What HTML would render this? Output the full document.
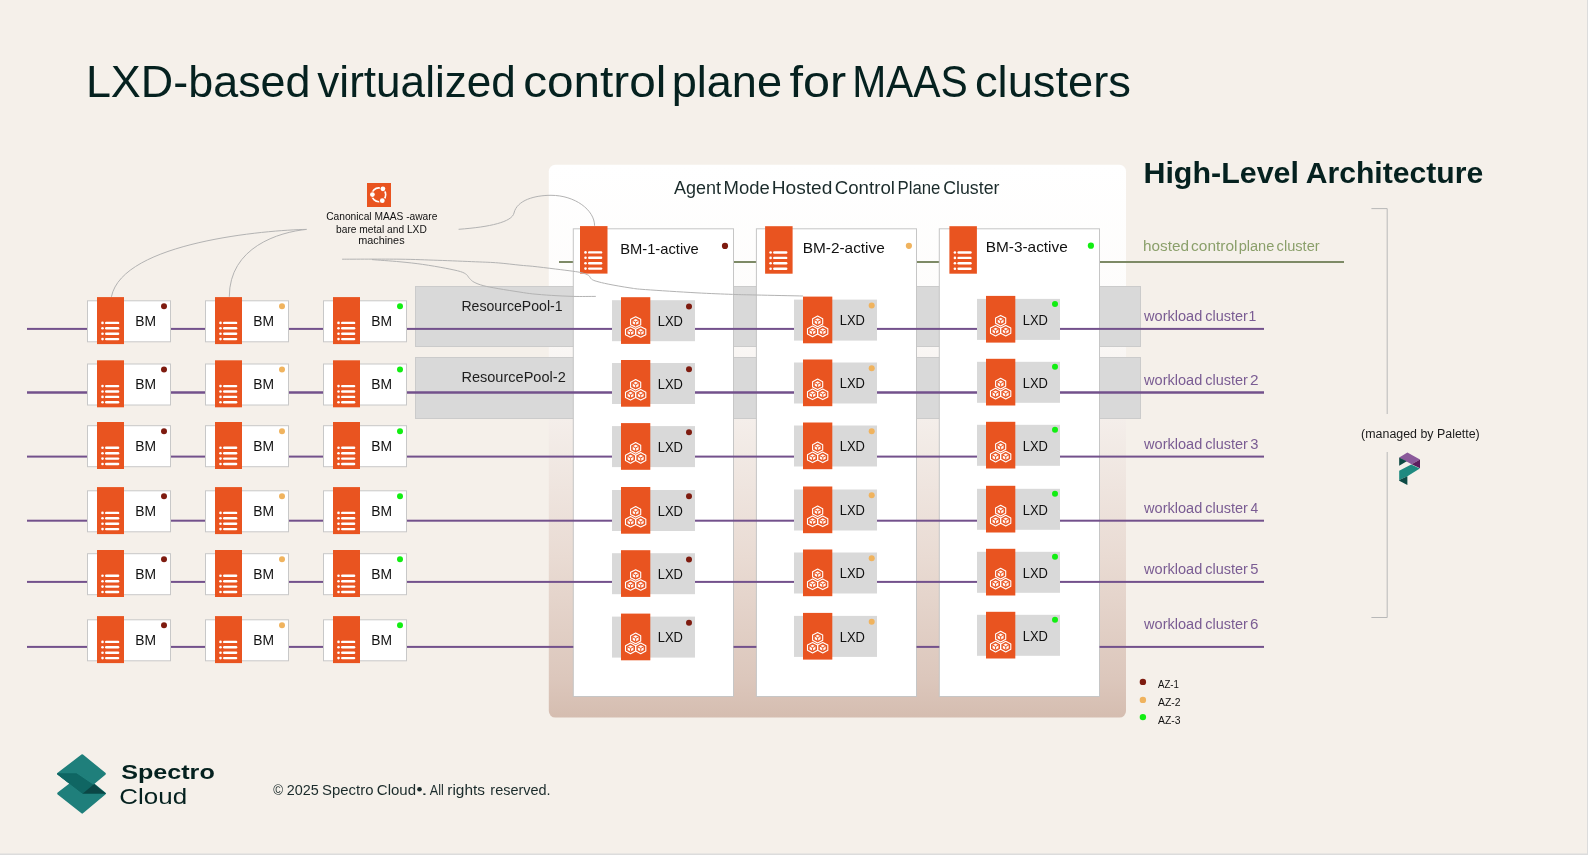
<!DOCTYPE html><html><head><meta charset="utf-8"><style>html,body{margin:0;padding:0;background:#F5F0EA;}svg{display:block;will-change:transform;font-family:"Liberation Sans",sans-serif;}</style></head><body>
<svg width="1588" height="855" viewBox="0 0 1588 855">
<defs><linearGradient id="pg" x1="0" y1="0" x2="0" y2="1"><stop offset="0" stop-color="#FFFFFF"/><stop offset="0.25" stop-color="#FDFCFB"/><stop offset="0.46" stop-color="#F4EEEA"/><stop offset="0.71" stop-color="#E9DBD3"/><stop offset="0.93" stop-color="#DCC7BC"/><stop offset="1" stop-color="#D5BDB0"/></linearGradient></defs>
<rect width="1588" height="855" fill="#F5F0EA"/>
<text x="85.9" y="96.6" font-size="44.5" fill="#05211F" textLength="224.64" lengthAdjust="spacingAndGlyphs">LXD-based</text>
<text x="317.29" y="96.6" font-size="44.5" fill="#05211F" textLength="198.56" lengthAdjust="spacingAndGlyphs">virtualized</text>
<text x="523.17" y="96.6" font-size="44.5" fill="#05211F" textLength="143.2" lengthAdjust="spacingAndGlyphs">control</text>
<text x="671.67" y="96.6" font-size="44.5" fill="#05211F" textLength="110.33" lengthAdjust="spacingAndGlyphs">plane</text>
<text x="789.57" y="96.6" font-size="44.5" fill="#05211F" textLength="56.63" lengthAdjust="spacingAndGlyphs">for</text>
<text x="852.13" y="96.6" font-size="44.5" fill="#05211F" textLength="115.66" lengthAdjust="spacingAndGlyphs">MAAS</text>
<text x="974.98" y="96.6" font-size="44.5" fill="#05211F" textLength="156.03" lengthAdjust="spacingAndGlyphs">clusters</text>
<rect x="548.8" y="164.8" width="577.2" height="552.8" rx="6.5" fill="url(#pg)"/>
<text x="674.06" y="194.2" font-size="17.6" fill="#1B2B2B" textLength="47.0" lengthAdjust="spacingAndGlyphs">Agent</text>
<text x="723.58" y="194.2" font-size="17.6" fill="#1B2B2B" textLength="46.24" lengthAdjust="spacingAndGlyphs">Mode</text>
<text x="771.72" y="194.2" font-size="17.6" fill="#1B2B2B" textLength="60.59" lengthAdjust="spacingAndGlyphs">Hosted</text>
<text x="834.77" y="194.2" font-size="17.6" fill="#1B2B2B" textLength="60.17" lengthAdjust="spacingAndGlyphs">Control</text>
<text x="897.52" y="194.2" font-size="17.6" fill="#1B2B2B" textLength="42.9" lengthAdjust="spacingAndGlyphs">Plane</text>
<text x="943.21" y="194.2" font-size="17.6" fill="#1B2B2B" textLength="56.26" lengthAdjust="spacingAndGlyphs">Cluster</text>
<text x="1143.45" y="183.2" font-size="30.2" fill="#05211F" textLength="155.57" lengthAdjust="spacingAndGlyphs" font-weight="bold">High-Level</text>
<text x="1305.65" y="183.2" font-size="30.2" fill="#05211F" textLength="177.66" lengthAdjust="spacingAndGlyphs" font-weight="bold">Architecture</text>
<rect x="559" y="261" width="785" height="2" fill="#7D8A66"/>
<text x="1143.03" y="251" font-size="14" fill="#8A9F6A" textLength="45.93" lengthAdjust="spacingAndGlyphs">hosted</text>
<text x="1191.14" y="251" font-size="14" fill="#8A9F6A" textLength="46.39" lengthAdjust="spacingAndGlyphs">control</text>
<text x="1238.65" y="251" font-size="14" fill="#8A9F6A" textLength="35.7" lengthAdjust="spacingAndGlyphs">plane</text>
<text x="1276.58" y="251" font-size="14" fill="#8A9F6A" textLength="43.05" lengthAdjust="spacingAndGlyphs">cluster</text>
<rect x="415.5" y="286.5" width="725" height="60" fill="#D9D9D9" stroke="#CBCBCB" stroke-width="1"/>
<rect x="415.5" y="357.5" width="725" height="61" fill="#D9D9D9" stroke="#CBCBCB" stroke-width="1"/>
<rect x="573.3" y="228.8" width="160.20000000000005" height="467.7" fill="#fff" stroke="#C6C6C6" stroke-width="1"/>
<rect x="756.4" y="228.8" width="160.10000000000002" height="467.7" fill="#fff" stroke="#C6C6C6" stroke-width="1"/>
<rect x="939.3" y="228.8" width="160.20000000000005" height="467.7" fill="#fff" stroke="#C6C6C6" stroke-width="1"/>
<text x="461.44" y="311.1" font-size="14.7" fill="#1E1E1E" textLength="101.14" lengthAdjust="spacingAndGlyphs">ResourcePool-1</text>
<text x="461.4" y="381.7" font-size="14.7" fill="#1E1E1E" textLength="104.34" lengthAdjust="spacingAndGlyphs">ResourcePool-2</text>
<rect x="27" y="327.9" width="1237" height="2" fill="#73518C"/>
<rect x="27" y="391.25" width="1237" height="2.5" fill="#73518C"/>
<rect x="27" y="455.6" width="1237" height="2" fill="#73518C"/>
<rect x="27" y="519.7" width="1237" height="2" fill="#73518C"/>
<rect x="27" y="580.9" width="1237" height="2" fill="#73518C"/>
<rect x="27" y="645.9" width="546.3" height="2" fill="#73518C"/>
<rect x="733.5" y="645.9" width="22.899999999999977" height="2" fill="#73518C"/>
<rect x="916.5" y="645.9" width="22.799999999999955" height="2" fill="#73518C"/>
<rect x="1099.5" y="645.9" width="164.5" height="2" fill="#73518C"/>
<text x="1144.04" y="321.2" font-size="14" fill="#7A5C93" textLength="58.3" lengthAdjust="spacingAndGlyphs">workload</text>
<text x="1205.28" y="321.2" font-size="14" fill="#7A5C93" textLength="42.64" lengthAdjust="spacingAndGlyphs">cluster</text>
<text x="1248.52" y="321.2" font-size="14" fill="#7A5C93">1</text>
<text x="1144.04" y="385.2" font-size="14" fill="#7A5C93" textLength="58.3" lengthAdjust="spacingAndGlyphs">workload</text>
<text x="1205.28" y="385.2" font-size="14" fill="#7A5C93" textLength="42.64" lengthAdjust="spacingAndGlyphs">cluster</text>
<text x="1250.13" y="385.2" font-size="14" fill="#7A5C93" textLength="8.56" lengthAdjust="spacingAndGlyphs">2</text>
<text x="1144.04" y="448.9" font-size="14" fill="#7A5C93" textLength="58.3" lengthAdjust="spacingAndGlyphs">workload</text>
<text x="1205.28" y="448.9" font-size="14" fill="#7A5C93" textLength="42.64" lengthAdjust="spacingAndGlyphs">cluster</text>
<text x="1250.35" y="448.9" font-size="14" fill="#7A5C93" textLength="8.2" lengthAdjust="spacingAndGlyphs">3</text>
<text x="1144.04" y="513" font-size="14" fill="#7A5C93" textLength="58.3" lengthAdjust="spacingAndGlyphs">workload</text>
<text x="1205.28" y="513" font-size="14" fill="#7A5C93" textLength="42.64" lengthAdjust="spacingAndGlyphs">cluster</text>
<text x="1250.59" y="513" font-size="14" fill="#7A5C93" textLength="7.71" lengthAdjust="spacingAndGlyphs">4</text>
<text x="1144.04" y="574" font-size="14" fill="#7A5C93" textLength="58.3" lengthAdjust="spacingAndGlyphs">workload</text>
<text x="1205.28" y="574" font-size="14" fill="#7A5C93" textLength="42.64" lengthAdjust="spacingAndGlyphs">cluster</text>
<text x="1250.31" y="574" font-size="14" fill="#7A5C93" textLength="8.2" lengthAdjust="spacingAndGlyphs">5</text>
<text x="1144.04" y="628.5" font-size="14" fill="#7A5C93" textLength="58.3" lengthAdjust="spacingAndGlyphs">workload</text>
<text x="1205.28" y="628.5" font-size="14" fill="#7A5C93" textLength="42.64" lengthAdjust="spacingAndGlyphs">cluster</text>
<text x="1250.14" y="628.5" font-size="14" fill="#7A5C93" textLength="8.42" lengthAdjust="spacingAndGlyphs">6</text>
<rect x="87.5" y="300.8" width="83" height="41" fill="#fff" stroke="#C8C8C8" stroke-width="1"/>
<rect x="97" y="297.1" width="27" height="47" fill="#E95420"/>
<circle cx="102.50" cy="322.90" r="1.3" fill="#fff"/>
<line x1="106.20" y1="322.90" x2="118.10" y2="322.90" stroke="#fff" stroke-width="2.4" stroke-linecap="round"/>
<circle cx="102.50" cy="328.30" r="1.3" fill="#fff"/>
<line x1="106.20" y1="328.30" x2="118.10" y2="328.30" stroke="#fff" stroke-width="2.4" stroke-linecap="round"/>
<circle cx="102.50" cy="333.70" r="1.3" fill="#fff"/>
<line x1="106.20" y1="333.70" x2="118.10" y2="333.70" stroke="#fff" stroke-width="2.4" stroke-linecap="round"/>
<circle cx="102.50" cy="339.10" r="1.3" fill="#fff"/>
<line x1="106.20" y1="339.10" x2="118.10" y2="339.10" stroke="#fff" stroke-width="2.4" stroke-linecap="round"/>
<text x="135.36" y="325.8" font-size="13.8" fill="#111" textLength="20.79" lengthAdjust="spacingAndGlyphs">BM</text>
<circle cx="164" cy="306.3" r="3" fill="#7E1B0F"/>
<rect x="205.5" y="300.8" width="83" height="41" fill="#fff" stroke="#C8C8C8" stroke-width="1"/>
<rect x="215" y="297.1" width="27" height="47" fill="#E95420"/>
<circle cx="220.50" cy="322.90" r="1.3" fill="#fff"/>
<line x1="224.20" y1="322.90" x2="236.10" y2="322.90" stroke="#fff" stroke-width="2.4" stroke-linecap="round"/>
<circle cx="220.50" cy="328.30" r="1.3" fill="#fff"/>
<line x1="224.20" y1="328.30" x2="236.10" y2="328.30" stroke="#fff" stroke-width="2.4" stroke-linecap="round"/>
<circle cx="220.50" cy="333.70" r="1.3" fill="#fff"/>
<line x1="224.20" y1="333.70" x2="236.10" y2="333.70" stroke="#fff" stroke-width="2.4" stroke-linecap="round"/>
<circle cx="220.50" cy="339.10" r="1.3" fill="#fff"/>
<line x1="224.20" y1="339.10" x2="236.10" y2="339.10" stroke="#fff" stroke-width="2.4" stroke-linecap="round"/>
<text x="253.36" y="325.8" font-size="13.8" fill="#111" textLength="20.79" lengthAdjust="spacingAndGlyphs">BM</text>
<circle cx="282" cy="306.3" r="3" fill="#F0B35E"/>
<rect x="323.5" y="300.8" width="83" height="41" fill="#fff" stroke="#C8C8C8" stroke-width="1"/>
<rect x="333" y="297.1" width="27" height="47" fill="#E95420"/>
<circle cx="338.50" cy="322.90" r="1.3" fill="#fff"/>
<line x1="342.20" y1="322.90" x2="354.10" y2="322.90" stroke="#fff" stroke-width="2.4" stroke-linecap="round"/>
<circle cx="338.50" cy="328.30" r="1.3" fill="#fff"/>
<line x1="342.20" y1="328.30" x2="354.10" y2="328.30" stroke="#fff" stroke-width="2.4" stroke-linecap="round"/>
<circle cx="338.50" cy="333.70" r="1.3" fill="#fff"/>
<line x1="342.20" y1="333.70" x2="354.10" y2="333.70" stroke="#fff" stroke-width="2.4" stroke-linecap="round"/>
<circle cx="338.50" cy="339.10" r="1.3" fill="#fff"/>
<line x1="342.20" y1="339.10" x2="354.10" y2="339.10" stroke="#fff" stroke-width="2.4" stroke-linecap="round"/>
<text x="371.36" y="325.8" font-size="13.8" fill="#111" textLength="20.79" lengthAdjust="spacingAndGlyphs">BM</text>
<circle cx="400" cy="306.3" r="3" fill="#12EE12"/>
<rect x="87.5" y="364.0" width="83" height="41" fill="#fff" stroke="#C8C8C8" stroke-width="1"/>
<rect x="97" y="360.3" width="27" height="47" fill="#E95420"/>
<circle cx="102.50" cy="386.10" r="1.3" fill="#fff"/>
<line x1="106.20" y1="386.10" x2="118.10" y2="386.10" stroke="#fff" stroke-width="2.4" stroke-linecap="round"/>
<circle cx="102.50" cy="391.50" r="1.3" fill="#fff"/>
<line x1="106.20" y1="391.50" x2="118.10" y2="391.50" stroke="#fff" stroke-width="2.4" stroke-linecap="round"/>
<circle cx="102.50" cy="396.90" r="1.3" fill="#fff"/>
<line x1="106.20" y1="396.90" x2="118.10" y2="396.90" stroke="#fff" stroke-width="2.4" stroke-linecap="round"/>
<circle cx="102.50" cy="402.30" r="1.3" fill="#fff"/>
<line x1="106.20" y1="402.30" x2="118.10" y2="402.30" stroke="#fff" stroke-width="2.4" stroke-linecap="round"/>
<text x="135.36" y="389.0" font-size="13.8" fill="#111" textLength="20.79" lengthAdjust="spacingAndGlyphs">BM</text>
<circle cx="164" cy="369.5" r="3" fill="#7E1B0F"/>
<rect x="205.5" y="364.0" width="83" height="41" fill="#fff" stroke="#C8C8C8" stroke-width="1"/>
<rect x="215" y="360.3" width="27" height="47" fill="#E95420"/>
<circle cx="220.50" cy="386.10" r="1.3" fill="#fff"/>
<line x1="224.20" y1="386.10" x2="236.10" y2="386.10" stroke="#fff" stroke-width="2.4" stroke-linecap="round"/>
<circle cx="220.50" cy="391.50" r="1.3" fill="#fff"/>
<line x1="224.20" y1="391.50" x2="236.10" y2="391.50" stroke="#fff" stroke-width="2.4" stroke-linecap="round"/>
<circle cx="220.50" cy="396.90" r="1.3" fill="#fff"/>
<line x1="224.20" y1="396.90" x2="236.10" y2="396.90" stroke="#fff" stroke-width="2.4" stroke-linecap="round"/>
<circle cx="220.50" cy="402.30" r="1.3" fill="#fff"/>
<line x1="224.20" y1="402.30" x2="236.10" y2="402.30" stroke="#fff" stroke-width="2.4" stroke-linecap="round"/>
<text x="253.36" y="389.0" font-size="13.8" fill="#111" textLength="20.79" lengthAdjust="spacingAndGlyphs">BM</text>
<circle cx="282" cy="369.5" r="3" fill="#F0B35E"/>
<rect x="323.5" y="364.0" width="83" height="41" fill="#fff" stroke="#C8C8C8" stroke-width="1"/>
<rect x="333" y="360.3" width="27" height="47" fill="#E95420"/>
<circle cx="338.50" cy="386.10" r="1.3" fill="#fff"/>
<line x1="342.20" y1="386.10" x2="354.10" y2="386.10" stroke="#fff" stroke-width="2.4" stroke-linecap="round"/>
<circle cx="338.50" cy="391.50" r="1.3" fill="#fff"/>
<line x1="342.20" y1="391.50" x2="354.10" y2="391.50" stroke="#fff" stroke-width="2.4" stroke-linecap="round"/>
<circle cx="338.50" cy="396.90" r="1.3" fill="#fff"/>
<line x1="342.20" y1="396.90" x2="354.10" y2="396.90" stroke="#fff" stroke-width="2.4" stroke-linecap="round"/>
<circle cx="338.50" cy="402.30" r="1.3" fill="#fff"/>
<line x1="342.20" y1="402.30" x2="354.10" y2="402.30" stroke="#fff" stroke-width="2.4" stroke-linecap="round"/>
<text x="371.36" y="389.0" font-size="13.8" fill="#111" textLength="20.79" lengthAdjust="spacingAndGlyphs">BM</text>
<circle cx="400" cy="369.5" r="3" fill="#12EE12"/>
<rect x="87.5" y="425.7" width="83" height="41" fill="#fff" stroke="#C8C8C8" stroke-width="1"/>
<rect x="97" y="422.0" width="27" height="47" fill="#E95420"/>
<circle cx="102.50" cy="447.80" r="1.3" fill="#fff"/>
<line x1="106.20" y1="447.80" x2="118.10" y2="447.80" stroke="#fff" stroke-width="2.4" stroke-linecap="round"/>
<circle cx="102.50" cy="453.20" r="1.3" fill="#fff"/>
<line x1="106.20" y1="453.20" x2="118.10" y2="453.20" stroke="#fff" stroke-width="2.4" stroke-linecap="round"/>
<circle cx="102.50" cy="458.60" r="1.3" fill="#fff"/>
<line x1="106.20" y1="458.60" x2="118.10" y2="458.60" stroke="#fff" stroke-width="2.4" stroke-linecap="round"/>
<circle cx="102.50" cy="464.00" r="1.3" fill="#fff"/>
<line x1="106.20" y1="464.00" x2="118.10" y2="464.00" stroke="#fff" stroke-width="2.4" stroke-linecap="round"/>
<text x="135.36" y="450.7" font-size="13.8" fill="#111" textLength="20.79" lengthAdjust="spacingAndGlyphs">BM</text>
<circle cx="164" cy="431.2" r="3" fill="#7E1B0F"/>
<rect x="205.5" y="425.7" width="83" height="41" fill="#fff" stroke="#C8C8C8" stroke-width="1"/>
<rect x="215" y="422.0" width="27" height="47" fill="#E95420"/>
<circle cx="220.50" cy="447.80" r="1.3" fill="#fff"/>
<line x1="224.20" y1="447.80" x2="236.10" y2="447.80" stroke="#fff" stroke-width="2.4" stroke-linecap="round"/>
<circle cx="220.50" cy="453.20" r="1.3" fill="#fff"/>
<line x1="224.20" y1="453.20" x2="236.10" y2="453.20" stroke="#fff" stroke-width="2.4" stroke-linecap="round"/>
<circle cx="220.50" cy="458.60" r="1.3" fill="#fff"/>
<line x1="224.20" y1="458.60" x2="236.10" y2="458.60" stroke="#fff" stroke-width="2.4" stroke-linecap="round"/>
<circle cx="220.50" cy="464.00" r="1.3" fill="#fff"/>
<line x1="224.20" y1="464.00" x2="236.10" y2="464.00" stroke="#fff" stroke-width="2.4" stroke-linecap="round"/>
<text x="253.36" y="450.7" font-size="13.8" fill="#111" textLength="20.79" lengthAdjust="spacingAndGlyphs">BM</text>
<circle cx="282" cy="431.2" r="3" fill="#F0B35E"/>
<rect x="323.5" y="425.7" width="83" height="41" fill="#fff" stroke="#C8C8C8" stroke-width="1"/>
<rect x="333" y="422.0" width="27" height="47" fill="#E95420"/>
<circle cx="338.50" cy="447.80" r="1.3" fill="#fff"/>
<line x1="342.20" y1="447.80" x2="354.10" y2="447.80" stroke="#fff" stroke-width="2.4" stroke-linecap="round"/>
<circle cx="338.50" cy="453.20" r="1.3" fill="#fff"/>
<line x1="342.20" y1="453.20" x2="354.10" y2="453.20" stroke="#fff" stroke-width="2.4" stroke-linecap="round"/>
<circle cx="338.50" cy="458.60" r="1.3" fill="#fff"/>
<line x1="342.20" y1="458.60" x2="354.10" y2="458.60" stroke="#fff" stroke-width="2.4" stroke-linecap="round"/>
<circle cx="338.50" cy="464.00" r="1.3" fill="#fff"/>
<line x1="342.20" y1="464.00" x2="354.10" y2="464.00" stroke="#fff" stroke-width="2.4" stroke-linecap="round"/>
<text x="371.36" y="450.7" font-size="13.8" fill="#111" textLength="20.79" lengthAdjust="spacingAndGlyphs">BM</text>
<circle cx="400" cy="431.2" r="3" fill="#12EE12"/>
<rect x="87.5" y="490.8" width="83" height="41" fill="#fff" stroke="#C8C8C8" stroke-width="1"/>
<rect x="97" y="487.1" width="27" height="47" fill="#E95420"/>
<circle cx="102.50" cy="512.90" r="1.3" fill="#fff"/>
<line x1="106.20" y1="512.90" x2="118.10" y2="512.90" stroke="#fff" stroke-width="2.4" stroke-linecap="round"/>
<circle cx="102.50" cy="518.30" r="1.3" fill="#fff"/>
<line x1="106.20" y1="518.30" x2="118.10" y2="518.30" stroke="#fff" stroke-width="2.4" stroke-linecap="round"/>
<circle cx="102.50" cy="523.70" r="1.3" fill="#fff"/>
<line x1="106.20" y1="523.70" x2="118.10" y2="523.70" stroke="#fff" stroke-width="2.4" stroke-linecap="round"/>
<circle cx="102.50" cy="529.10" r="1.3" fill="#fff"/>
<line x1="106.20" y1="529.10" x2="118.10" y2="529.10" stroke="#fff" stroke-width="2.4" stroke-linecap="round"/>
<text x="135.36" y="515.8" font-size="13.8" fill="#111" textLength="20.79" lengthAdjust="spacingAndGlyphs">BM</text>
<circle cx="164" cy="496.3" r="3" fill="#7E1B0F"/>
<rect x="205.5" y="490.8" width="83" height="41" fill="#fff" stroke="#C8C8C8" stroke-width="1"/>
<rect x="215" y="487.1" width="27" height="47" fill="#E95420"/>
<circle cx="220.50" cy="512.90" r="1.3" fill="#fff"/>
<line x1="224.20" y1="512.90" x2="236.10" y2="512.90" stroke="#fff" stroke-width="2.4" stroke-linecap="round"/>
<circle cx="220.50" cy="518.30" r="1.3" fill="#fff"/>
<line x1="224.20" y1="518.30" x2="236.10" y2="518.30" stroke="#fff" stroke-width="2.4" stroke-linecap="round"/>
<circle cx="220.50" cy="523.70" r="1.3" fill="#fff"/>
<line x1="224.20" y1="523.70" x2="236.10" y2="523.70" stroke="#fff" stroke-width="2.4" stroke-linecap="round"/>
<circle cx="220.50" cy="529.10" r="1.3" fill="#fff"/>
<line x1="224.20" y1="529.10" x2="236.10" y2="529.10" stroke="#fff" stroke-width="2.4" stroke-linecap="round"/>
<text x="253.36" y="515.8" font-size="13.8" fill="#111" textLength="20.79" lengthAdjust="spacingAndGlyphs">BM</text>
<circle cx="282" cy="496.3" r="3" fill="#F0B35E"/>
<rect x="323.5" y="490.8" width="83" height="41" fill="#fff" stroke="#C8C8C8" stroke-width="1"/>
<rect x="333" y="487.1" width="27" height="47" fill="#E95420"/>
<circle cx="338.50" cy="512.90" r="1.3" fill="#fff"/>
<line x1="342.20" y1="512.90" x2="354.10" y2="512.90" stroke="#fff" stroke-width="2.4" stroke-linecap="round"/>
<circle cx="338.50" cy="518.30" r="1.3" fill="#fff"/>
<line x1="342.20" y1="518.30" x2="354.10" y2="518.30" stroke="#fff" stroke-width="2.4" stroke-linecap="round"/>
<circle cx="338.50" cy="523.70" r="1.3" fill="#fff"/>
<line x1="342.20" y1="523.70" x2="354.10" y2="523.70" stroke="#fff" stroke-width="2.4" stroke-linecap="round"/>
<circle cx="338.50" cy="529.10" r="1.3" fill="#fff"/>
<line x1="342.20" y1="529.10" x2="354.10" y2="529.10" stroke="#fff" stroke-width="2.4" stroke-linecap="round"/>
<text x="371.36" y="515.8" font-size="13.8" fill="#111" textLength="20.79" lengthAdjust="spacingAndGlyphs">BM</text>
<circle cx="400" cy="496.3" r="3" fill="#12EE12"/>
<rect x="87.5" y="553.7" width="83" height="41" fill="#fff" stroke="#C8C8C8" stroke-width="1"/>
<rect x="97" y="550.0" width="27" height="47" fill="#E95420"/>
<circle cx="102.50" cy="575.80" r="1.3" fill="#fff"/>
<line x1="106.20" y1="575.80" x2="118.10" y2="575.80" stroke="#fff" stroke-width="2.4" stroke-linecap="round"/>
<circle cx="102.50" cy="581.20" r="1.3" fill="#fff"/>
<line x1="106.20" y1="581.20" x2="118.10" y2="581.20" stroke="#fff" stroke-width="2.4" stroke-linecap="round"/>
<circle cx="102.50" cy="586.60" r="1.3" fill="#fff"/>
<line x1="106.20" y1="586.60" x2="118.10" y2="586.60" stroke="#fff" stroke-width="2.4" stroke-linecap="round"/>
<circle cx="102.50" cy="592.00" r="1.3" fill="#fff"/>
<line x1="106.20" y1="592.00" x2="118.10" y2="592.00" stroke="#fff" stroke-width="2.4" stroke-linecap="round"/>
<text x="135.36" y="578.7" font-size="13.8" fill="#111" textLength="20.79" lengthAdjust="spacingAndGlyphs">BM</text>
<circle cx="164" cy="559.2" r="3" fill="#7E1B0F"/>
<rect x="205.5" y="553.7" width="83" height="41" fill="#fff" stroke="#C8C8C8" stroke-width="1"/>
<rect x="215" y="550.0" width="27" height="47" fill="#E95420"/>
<circle cx="220.50" cy="575.80" r="1.3" fill="#fff"/>
<line x1="224.20" y1="575.80" x2="236.10" y2="575.80" stroke="#fff" stroke-width="2.4" stroke-linecap="round"/>
<circle cx="220.50" cy="581.20" r="1.3" fill="#fff"/>
<line x1="224.20" y1="581.20" x2="236.10" y2="581.20" stroke="#fff" stroke-width="2.4" stroke-linecap="round"/>
<circle cx="220.50" cy="586.60" r="1.3" fill="#fff"/>
<line x1="224.20" y1="586.60" x2="236.10" y2="586.60" stroke="#fff" stroke-width="2.4" stroke-linecap="round"/>
<circle cx="220.50" cy="592.00" r="1.3" fill="#fff"/>
<line x1="224.20" y1="592.00" x2="236.10" y2="592.00" stroke="#fff" stroke-width="2.4" stroke-linecap="round"/>
<text x="253.36" y="578.7" font-size="13.8" fill="#111" textLength="20.79" lengthAdjust="spacingAndGlyphs">BM</text>
<circle cx="282" cy="559.2" r="3" fill="#F0B35E"/>
<rect x="323.5" y="553.7" width="83" height="41" fill="#fff" stroke="#C8C8C8" stroke-width="1"/>
<rect x="333" y="550.0" width="27" height="47" fill="#E95420"/>
<circle cx="338.50" cy="575.80" r="1.3" fill="#fff"/>
<line x1="342.20" y1="575.80" x2="354.10" y2="575.80" stroke="#fff" stroke-width="2.4" stroke-linecap="round"/>
<circle cx="338.50" cy="581.20" r="1.3" fill="#fff"/>
<line x1="342.20" y1="581.20" x2="354.10" y2="581.20" stroke="#fff" stroke-width="2.4" stroke-linecap="round"/>
<circle cx="338.50" cy="586.60" r="1.3" fill="#fff"/>
<line x1="342.20" y1="586.60" x2="354.10" y2="586.60" stroke="#fff" stroke-width="2.4" stroke-linecap="round"/>
<circle cx="338.50" cy="592.00" r="1.3" fill="#fff"/>
<line x1="342.20" y1="592.00" x2="354.10" y2="592.00" stroke="#fff" stroke-width="2.4" stroke-linecap="round"/>
<text x="371.36" y="578.7" font-size="13.8" fill="#111" textLength="20.79" lengthAdjust="spacingAndGlyphs">BM</text>
<circle cx="400" cy="559.2" r="3" fill="#12EE12"/>
<rect x="87.5" y="619.8" width="83" height="41" fill="#fff" stroke="#C8C8C8" stroke-width="1"/>
<rect x="97" y="616.0999999999999" width="27" height="47" fill="#E95420"/>
<circle cx="102.50" cy="641.90" r="1.3" fill="#fff"/>
<line x1="106.20" y1="641.90" x2="118.10" y2="641.90" stroke="#fff" stroke-width="2.4" stroke-linecap="round"/>
<circle cx="102.50" cy="647.30" r="1.3" fill="#fff"/>
<line x1="106.20" y1="647.30" x2="118.10" y2="647.30" stroke="#fff" stroke-width="2.4" stroke-linecap="round"/>
<circle cx="102.50" cy="652.70" r="1.3" fill="#fff"/>
<line x1="106.20" y1="652.70" x2="118.10" y2="652.70" stroke="#fff" stroke-width="2.4" stroke-linecap="round"/>
<circle cx="102.50" cy="658.10" r="1.3" fill="#fff"/>
<line x1="106.20" y1="658.10" x2="118.10" y2="658.10" stroke="#fff" stroke-width="2.4" stroke-linecap="round"/>
<text x="135.36" y="644.8" font-size="13.8" fill="#111" textLength="20.79" lengthAdjust="spacingAndGlyphs">BM</text>
<circle cx="164" cy="625.3" r="3" fill="#7E1B0F"/>
<rect x="205.5" y="619.8" width="83" height="41" fill="#fff" stroke="#C8C8C8" stroke-width="1"/>
<rect x="215" y="616.0999999999999" width="27" height="47" fill="#E95420"/>
<circle cx="220.50" cy="641.90" r="1.3" fill="#fff"/>
<line x1="224.20" y1="641.90" x2="236.10" y2="641.90" stroke="#fff" stroke-width="2.4" stroke-linecap="round"/>
<circle cx="220.50" cy="647.30" r="1.3" fill="#fff"/>
<line x1="224.20" y1="647.30" x2="236.10" y2="647.30" stroke="#fff" stroke-width="2.4" stroke-linecap="round"/>
<circle cx="220.50" cy="652.70" r="1.3" fill="#fff"/>
<line x1="224.20" y1="652.70" x2="236.10" y2="652.70" stroke="#fff" stroke-width="2.4" stroke-linecap="round"/>
<circle cx="220.50" cy="658.10" r="1.3" fill="#fff"/>
<line x1="224.20" y1="658.10" x2="236.10" y2="658.10" stroke="#fff" stroke-width="2.4" stroke-linecap="round"/>
<text x="253.36" y="644.8" font-size="13.8" fill="#111" textLength="20.79" lengthAdjust="spacingAndGlyphs">BM</text>
<circle cx="282" cy="625.3" r="3" fill="#F0B35E"/>
<rect x="323.5" y="619.8" width="83" height="41" fill="#fff" stroke="#C8C8C8" stroke-width="1"/>
<rect x="333" y="616.0999999999999" width="27" height="47" fill="#E95420"/>
<circle cx="338.50" cy="641.90" r="1.3" fill="#fff"/>
<line x1="342.20" y1="641.90" x2="354.10" y2="641.90" stroke="#fff" stroke-width="2.4" stroke-linecap="round"/>
<circle cx="338.50" cy="647.30" r="1.3" fill="#fff"/>
<line x1="342.20" y1="647.30" x2="354.10" y2="647.30" stroke="#fff" stroke-width="2.4" stroke-linecap="round"/>
<circle cx="338.50" cy="652.70" r="1.3" fill="#fff"/>
<line x1="342.20" y1="652.70" x2="354.10" y2="652.70" stroke="#fff" stroke-width="2.4" stroke-linecap="round"/>
<circle cx="338.50" cy="658.10" r="1.3" fill="#fff"/>
<line x1="342.20" y1="658.10" x2="354.10" y2="658.10" stroke="#fff" stroke-width="2.4" stroke-linecap="round"/>
<text x="371.36" y="644.8" font-size="13.8" fill="#111" textLength="20.79" lengthAdjust="spacingAndGlyphs">BM</text>
<circle cx="400" cy="625.3" r="3" fill="#12EE12"/>
<rect x="580" y="226.1" width="27.5" height="47.5" fill="#E95420"/>
<circle cx="585.50" cy="252.40" r="1.3" fill="#fff"/>
<line x1="589.20" y1="252.40" x2="601.10" y2="252.40" stroke="#fff" stroke-width="2.4" stroke-linecap="round"/>
<circle cx="585.50" cy="257.80" r="1.3" fill="#fff"/>
<line x1="589.20" y1="257.80" x2="601.10" y2="257.80" stroke="#fff" stroke-width="2.4" stroke-linecap="round"/>
<circle cx="585.50" cy="263.20" r="1.3" fill="#fff"/>
<line x1="589.20" y1="263.20" x2="601.10" y2="263.20" stroke="#fff" stroke-width="2.4" stroke-linecap="round"/>
<circle cx="585.50" cy="268.60" r="1.3" fill="#fff"/>
<line x1="589.20" y1="268.60" x2="601.10" y2="268.60" stroke="#fff" stroke-width="2.4" stroke-linecap="round"/>
<text x="620.18" y="254" font-size="14.5" fill="#111" textLength="78.57" lengthAdjust="spacingAndGlyphs">BM-1-active</text>
<circle cx="725" cy="245.9" r="3.1" fill="#7E1B0F"/>
<rect x="765.1" y="226.2" width="27.5" height="47.5" fill="#E95420"/>
<circle cx="770.60" cy="252.50" r="1.3" fill="#fff"/>
<line x1="774.30" y1="252.50" x2="786.20" y2="252.50" stroke="#fff" stroke-width="2.4" stroke-linecap="round"/>
<circle cx="770.60" cy="257.90" r="1.3" fill="#fff"/>
<line x1="774.30" y1="257.90" x2="786.20" y2="257.90" stroke="#fff" stroke-width="2.4" stroke-linecap="round"/>
<circle cx="770.60" cy="263.30" r="1.3" fill="#fff"/>
<line x1="774.30" y1="263.30" x2="786.20" y2="263.30" stroke="#fff" stroke-width="2.4" stroke-linecap="round"/>
<circle cx="770.60" cy="268.70" r="1.3" fill="#fff"/>
<line x1="774.30" y1="268.70" x2="786.20" y2="268.70" stroke="#fff" stroke-width="2.4" stroke-linecap="round"/>
<text x="802.73" y="252.8" font-size="14.5" fill="#111" textLength="82.05" lengthAdjust="spacingAndGlyphs">BM-2-active</text>
<circle cx="908.9" cy="245.8" r="3.1" fill="#F0B35E"/>
<rect x="949.4" y="226.2" width="27.5" height="47.5" fill="#E95420"/>
<circle cx="954.90" cy="252.50" r="1.3" fill="#fff"/>
<line x1="958.60" y1="252.50" x2="970.50" y2="252.50" stroke="#fff" stroke-width="2.4" stroke-linecap="round"/>
<circle cx="954.90" cy="257.90" r="1.3" fill="#fff"/>
<line x1="958.60" y1="257.90" x2="970.50" y2="257.90" stroke="#fff" stroke-width="2.4" stroke-linecap="round"/>
<circle cx="954.90" cy="263.30" r="1.3" fill="#fff"/>
<line x1="958.60" y1="263.30" x2="970.50" y2="263.30" stroke="#fff" stroke-width="2.4" stroke-linecap="round"/>
<circle cx="954.90" cy="268.70" r="1.3" fill="#fff"/>
<line x1="958.60" y1="268.70" x2="970.50" y2="268.70" stroke="#fff" stroke-width="2.4" stroke-linecap="round"/>
<text x="985.73" y="251.8" font-size="14.5" fill="#111" textLength="82.05" lengthAdjust="spacingAndGlyphs">BM-3-active</text>
<circle cx="1090.9" cy="245.7" r="3.1" fill="#12EE12"/>
<rect x="612" y="300.2" width="83" height="41" fill="#D9D9D9"/>
<rect x="621" y="297.2" width="29.3" height="46.7" fill="#E95420"/>
<polygon points="635.65,316.70 640.70,319.35 640.70,324.65 635.65,327.30 630.60,324.65 630.60,319.35" fill="none" stroke="#fff" stroke-width="1.1" stroke-linejoin="round"/>
<polygon points="635.65,318.93 638.58,320.46 638.58,323.54 635.65,325.07 632.72,323.54 632.72,320.46" fill="#fff" stroke="none" opacity="0.95"/>
<path d="M632.72,320.46 L635.65,322.00 L638.58,320.46 M635.65,322.00 L635.65,325.07" stroke="#E95420" stroke-width="1.0" fill="none"/>
<polygon points="630.55,326.70 635.60,329.35 635.60,334.65 630.55,337.30 625.50,334.65 625.50,329.35" fill="none" stroke="#fff" stroke-width="1.1" stroke-linejoin="round"/>
<polygon points="630.55,328.93 633.48,330.46 633.48,333.54 630.55,335.07 627.62,333.54 627.62,330.46" fill="#fff" stroke="none" opacity="0.95"/>
<path d="M627.62,330.46 L630.55,332.00 L633.48,330.46 M630.55,332.00 L630.55,335.07" stroke="#E95420" stroke-width="1.0" fill="none"/>
<polygon points="640.75,326.70 645.80,329.35 645.80,334.65 640.75,337.30 635.70,334.65 635.70,329.35" fill="none" stroke="#fff" stroke-width="1.1" stroke-linejoin="round"/>
<polygon points="640.75,328.93 643.68,330.46 643.68,333.54 640.75,335.07 637.82,333.54 637.82,330.46" fill="#fff" stroke="none" opacity="0.95"/>
<path d="M637.82,330.46 L640.75,332.00 L643.68,330.46 M640.75,332.00 L640.75,335.07" stroke="#E95420" stroke-width="1.0" fill="none"/>
<text x="657.73" y="325.9" font-size="14.2" fill="#111" textLength="25.19" lengthAdjust="spacingAndGlyphs">LXD</text>
<circle cx="689" cy="306.4" r="3" fill="#7E1B0F"/>
<rect x="612" y="363" width="83" height="41" fill="#D9D9D9"/>
<rect x="621" y="360" width="29.3" height="46.7" fill="#E95420"/>
<polygon points="635.65,379.50 640.70,382.15 640.70,387.45 635.65,390.10 630.60,387.45 630.60,382.15" fill="none" stroke="#fff" stroke-width="1.1" stroke-linejoin="round"/>
<polygon points="635.65,381.73 638.58,383.26 638.58,386.34 635.65,387.87 632.72,386.34 632.72,383.26" fill="#fff" stroke="none" opacity="0.95"/>
<path d="M632.72,383.26 L635.65,384.80 L638.58,383.26 M635.65,384.80 L635.65,387.87" stroke="#E95420" stroke-width="1.0" fill="none"/>
<polygon points="630.55,389.50 635.60,392.15 635.60,397.45 630.55,400.10 625.50,397.45 625.50,392.15" fill="none" stroke="#fff" stroke-width="1.1" stroke-linejoin="round"/>
<polygon points="630.55,391.73 633.48,393.26 633.48,396.34 630.55,397.87 627.62,396.34 627.62,393.26" fill="#fff" stroke="none" opacity="0.95"/>
<path d="M627.62,393.26 L630.55,394.80 L633.48,393.26 M630.55,394.80 L630.55,397.87" stroke="#E95420" stroke-width="1.0" fill="none"/>
<polygon points="640.75,389.50 645.80,392.15 645.80,397.45 640.75,400.10 635.70,397.45 635.70,392.15" fill="none" stroke="#fff" stroke-width="1.1" stroke-linejoin="round"/>
<polygon points="640.75,391.73 643.68,393.26 643.68,396.34 640.75,397.87 637.82,396.34 637.82,393.26" fill="#fff" stroke="none" opacity="0.95"/>
<path d="M637.82,393.26 L640.75,394.80 L643.68,393.26 M640.75,394.80 L640.75,397.87" stroke="#E95420" stroke-width="1.0" fill="none"/>
<text x="657.73" y="388.7" font-size="14.2" fill="#111" textLength="25.19" lengthAdjust="spacingAndGlyphs">LXD</text>
<circle cx="689" cy="369.2" r="3" fill="#7E1B0F"/>
<rect x="612" y="426.1" width="83" height="41" fill="#D9D9D9"/>
<rect x="621" y="423.1" width="29.3" height="46.7" fill="#E95420"/>
<polygon points="635.65,442.60 640.70,445.25 640.70,450.55 635.65,453.20 630.60,450.55 630.60,445.25" fill="none" stroke="#fff" stroke-width="1.1" stroke-linejoin="round"/>
<polygon points="635.65,444.83 638.58,446.36 638.58,449.44 635.65,450.97 632.72,449.44 632.72,446.36" fill="#fff" stroke="none" opacity="0.95"/>
<path d="M632.72,446.36 L635.65,447.90 L638.58,446.36 M635.65,447.90 L635.65,450.97" stroke="#E95420" stroke-width="1.0" fill="none"/>
<polygon points="630.55,452.60 635.60,455.25 635.60,460.55 630.55,463.20 625.50,460.55 625.50,455.25" fill="none" stroke="#fff" stroke-width="1.1" stroke-linejoin="round"/>
<polygon points="630.55,454.83 633.48,456.36 633.48,459.44 630.55,460.97 627.62,459.44 627.62,456.36" fill="#fff" stroke="none" opacity="0.95"/>
<path d="M627.62,456.36 L630.55,457.90 L633.48,456.36 M630.55,457.90 L630.55,460.97" stroke="#E95420" stroke-width="1.0" fill="none"/>
<polygon points="640.75,452.60 645.80,455.25 645.80,460.55 640.75,463.20 635.70,460.55 635.70,455.25" fill="none" stroke="#fff" stroke-width="1.1" stroke-linejoin="round"/>
<polygon points="640.75,454.83 643.68,456.36 643.68,459.44 640.75,460.97 637.82,459.44 637.82,456.36" fill="#fff" stroke="none" opacity="0.95"/>
<path d="M637.82,456.36 L640.75,457.90 L643.68,456.36 M640.75,457.90 L640.75,460.97" stroke="#E95420" stroke-width="1.0" fill="none"/>
<text x="657.73" y="451.8" font-size="14.2" fill="#111" textLength="25.19" lengthAdjust="spacingAndGlyphs">LXD</text>
<circle cx="689" cy="432.3" r="3" fill="#7E1B0F"/>
<rect x="612" y="490" width="83" height="41" fill="#D9D9D9"/>
<rect x="621" y="487" width="29.3" height="46.7" fill="#E95420"/>
<polygon points="635.65,506.50 640.70,509.15 640.70,514.45 635.65,517.10 630.60,514.45 630.60,509.15" fill="none" stroke="#fff" stroke-width="1.1" stroke-linejoin="round"/>
<polygon points="635.65,508.73 638.58,510.26 638.58,513.34 635.65,514.87 632.72,513.34 632.72,510.26" fill="#fff" stroke="none" opacity="0.95"/>
<path d="M632.72,510.26 L635.65,511.80 L638.58,510.26 M635.65,511.80 L635.65,514.87" stroke="#E95420" stroke-width="1.0" fill="none"/>
<polygon points="630.55,516.50 635.60,519.15 635.60,524.45 630.55,527.10 625.50,524.45 625.50,519.15" fill="none" stroke="#fff" stroke-width="1.1" stroke-linejoin="round"/>
<polygon points="630.55,518.73 633.48,520.26 633.48,523.34 630.55,524.87 627.62,523.34 627.62,520.26" fill="#fff" stroke="none" opacity="0.95"/>
<path d="M627.62,520.26 L630.55,521.80 L633.48,520.26 M630.55,521.80 L630.55,524.87" stroke="#E95420" stroke-width="1.0" fill="none"/>
<polygon points="640.75,516.50 645.80,519.15 645.80,524.45 640.75,527.10 635.70,524.45 635.70,519.15" fill="none" stroke="#fff" stroke-width="1.1" stroke-linejoin="round"/>
<polygon points="640.75,518.73 643.68,520.26 643.68,523.34 640.75,524.87 637.82,523.34 637.82,520.26" fill="#fff" stroke="none" opacity="0.95"/>
<path d="M637.82,520.26 L640.75,521.80 L643.68,520.26 M640.75,521.80 L640.75,524.87" stroke="#E95420" stroke-width="1.0" fill="none"/>
<text x="657.73" y="515.7" font-size="14.2" fill="#111" textLength="25.19" lengthAdjust="spacingAndGlyphs">LXD</text>
<circle cx="689" cy="496.2" r="3" fill="#7E1B0F"/>
<rect x="612" y="553.2" width="83" height="41" fill="#D9D9D9"/>
<rect x="621" y="550.2" width="29.3" height="46.7" fill="#E95420"/>
<polygon points="635.65,569.70 640.70,572.35 640.70,577.65 635.65,580.30 630.60,577.65 630.60,572.35" fill="none" stroke="#fff" stroke-width="1.1" stroke-linejoin="round"/>
<polygon points="635.65,571.93 638.58,573.46 638.58,576.54 635.65,578.07 632.72,576.54 632.72,573.46" fill="#fff" stroke="none" opacity="0.95"/>
<path d="M632.72,573.46 L635.65,575.00 L638.58,573.46 M635.65,575.00 L635.65,578.07" stroke="#E95420" stroke-width="1.0" fill="none"/>
<polygon points="630.55,579.70 635.60,582.35 635.60,587.65 630.55,590.30 625.50,587.65 625.50,582.35" fill="none" stroke="#fff" stroke-width="1.1" stroke-linejoin="round"/>
<polygon points="630.55,581.93 633.48,583.46 633.48,586.54 630.55,588.07 627.62,586.54 627.62,583.46" fill="#fff" stroke="none" opacity="0.95"/>
<path d="M627.62,583.46 L630.55,585.00 L633.48,583.46 M630.55,585.00 L630.55,588.07" stroke="#E95420" stroke-width="1.0" fill="none"/>
<polygon points="640.75,579.70 645.80,582.35 645.80,587.65 640.75,590.30 635.70,587.65 635.70,582.35" fill="none" stroke="#fff" stroke-width="1.1" stroke-linejoin="round"/>
<polygon points="640.75,581.93 643.68,583.46 643.68,586.54 640.75,588.07 637.82,586.54 637.82,583.46" fill="#fff" stroke="none" opacity="0.95"/>
<path d="M637.82,583.46 L640.75,585.00 L643.68,583.46 M640.75,585.00 L640.75,588.07" stroke="#E95420" stroke-width="1.0" fill="none"/>
<text x="657.73" y="578.9000000000001" font-size="14.2" fill="#111" textLength="25.19" lengthAdjust="spacingAndGlyphs">LXD</text>
<circle cx="689" cy="559.4000000000001" r="3" fill="#7E1B0F"/>
<rect x="612" y="616.6" width="83" height="41" fill="#D9D9D9"/>
<rect x="621" y="613.6" width="29.3" height="46.7" fill="#E95420"/>
<polygon points="635.65,633.10 640.70,635.75 640.70,641.05 635.65,643.70 630.60,641.05 630.60,635.75" fill="none" stroke="#fff" stroke-width="1.1" stroke-linejoin="round"/>
<polygon points="635.65,635.33 638.58,636.86 638.58,639.94 635.65,641.47 632.72,639.94 632.72,636.86" fill="#fff" stroke="none" opacity="0.95"/>
<path d="M632.72,636.86 L635.65,638.40 L638.58,636.86 M635.65,638.40 L635.65,641.47" stroke="#E95420" stroke-width="1.0" fill="none"/>
<polygon points="630.55,643.10 635.60,645.75 635.60,651.05 630.55,653.70 625.50,651.05 625.50,645.75" fill="none" stroke="#fff" stroke-width="1.1" stroke-linejoin="round"/>
<polygon points="630.55,645.33 633.48,646.86 633.48,649.94 630.55,651.47 627.62,649.94 627.62,646.86" fill="#fff" stroke="none" opacity="0.95"/>
<path d="M627.62,646.86 L630.55,648.40 L633.48,646.86 M630.55,648.40 L630.55,651.47" stroke="#E95420" stroke-width="1.0" fill="none"/>
<polygon points="640.75,643.10 645.80,645.75 645.80,651.05 640.75,653.70 635.70,651.05 635.70,645.75" fill="none" stroke="#fff" stroke-width="1.1" stroke-linejoin="round"/>
<polygon points="640.75,645.33 643.68,646.86 643.68,649.94 640.75,651.47 637.82,649.94 637.82,646.86" fill="#fff" stroke="none" opacity="0.95"/>
<path d="M637.82,646.86 L640.75,648.40 L643.68,646.86 M640.75,648.40 L640.75,651.47" stroke="#E95420" stroke-width="1.0" fill="none"/>
<text x="657.73" y="642.3000000000001" font-size="14.2" fill="#111" textLength="25.19" lengthAdjust="spacingAndGlyphs">LXD</text>
<circle cx="689" cy="622.8000000000001" r="3" fill="#7E1B0F"/>
<rect x="794" y="299.6" width="83" height="41" fill="#D9D9D9"/>
<rect x="803" y="296.6" width="29.3" height="46.7" fill="#E95420"/>
<polygon points="817.65,316.10 822.70,318.75 822.70,324.05 817.65,326.70 812.60,324.05 812.60,318.75" fill="none" stroke="#fff" stroke-width="1.1" stroke-linejoin="round"/>
<polygon points="817.65,318.33 820.58,319.86 820.58,322.94 817.65,324.47 814.72,322.94 814.72,319.86" fill="#fff" stroke="none" opacity="0.95"/>
<path d="M814.72,319.86 L817.65,321.40 L820.58,319.86 M817.65,321.40 L817.65,324.47" stroke="#E95420" stroke-width="1.0" fill="none"/>
<polygon points="812.55,326.10 817.60,328.75 817.60,334.05 812.55,336.70 807.50,334.05 807.50,328.75" fill="none" stroke="#fff" stroke-width="1.1" stroke-linejoin="round"/>
<polygon points="812.55,328.33 815.48,329.86 815.48,332.94 812.55,334.47 809.62,332.94 809.62,329.86" fill="#fff" stroke="none" opacity="0.95"/>
<path d="M809.62,329.86 L812.55,331.40 L815.48,329.86 M812.55,331.40 L812.55,334.47" stroke="#E95420" stroke-width="1.0" fill="none"/>
<polygon points="822.75,326.10 827.80,328.75 827.80,334.05 822.75,336.70 817.70,334.05 817.70,328.75" fill="none" stroke="#fff" stroke-width="1.1" stroke-linejoin="round"/>
<polygon points="822.75,328.33 825.68,329.86 825.68,332.94 822.75,334.47 819.82,332.94 819.82,329.86" fill="#fff" stroke="none" opacity="0.95"/>
<path d="M819.82,329.86 L822.75,331.40 L825.68,329.86 M822.75,331.40 L822.75,334.47" stroke="#E95420" stroke-width="1.0" fill="none"/>
<text x="839.73" y="325.3" font-size="14.2" fill="#111" textLength="25.19" lengthAdjust="spacingAndGlyphs">LXD</text>
<circle cx="871.7" cy="305.40000000000003" r="3" fill="#F0B35E"/>
<rect x="794" y="362.5" width="83" height="41" fill="#D9D9D9"/>
<rect x="803" y="359.5" width="29.3" height="46.7" fill="#E95420"/>
<polygon points="817.65,379.00 822.70,381.65 822.70,386.95 817.65,389.60 812.60,386.95 812.60,381.65" fill="none" stroke="#fff" stroke-width="1.1" stroke-linejoin="round"/>
<polygon points="817.65,381.23 820.58,382.76 820.58,385.84 817.65,387.37 814.72,385.84 814.72,382.76" fill="#fff" stroke="none" opacity="0.95"/>
<path d="M814.72,382.76 L817.65,384.30 L820.58,382.76 M817.65,384.30 L817.65,387.37" stroke="#E95420" stroke-width="1.0" fill="none"/>
<polygon points="812.55,389.00 817.60,391.65 817.60,396.95 812.55,399.60 807.50,396.95 807.50,391.65" fill="none" stroke="#fff" stroke-width="1.1" stroke-linejoin="round"/>
<polygon points="812.55,391.23 815.48,392.76 815.48,395.84 812.55,397.37 809.62,395.84 809.62,392.76" fill="#fff" stroke="none" opacity="0.95"/>
<path d="M809.62,392.76 L812.55,394.30 L815.48,392.76 M812.55,394.30 L812.55,397.37" stroke="#E95420" stroke-width="1.0" fill="none"/>
<polygon points="822.75,389.00 827.80,391.65 827.80,396.95 822.75,399.60 817.70,396.95 817.70,391.65" fill="none" stroke="#fff" stroke-width="1.1" stroke-linejoin="round"/>
<polygon points="822.75,391.23 825.68,392.76 825.68,395.84 822.75,397.37 819.82,395.84 819.82,392.76" fill="#fff" stroke="none" opacity="0.95"/>
<path d="M819.82,392.76 L822.75,394.30 L825.68,392.76 M822.75,394.30 L822.75,397.37" stroke="#E95420" stroke-width="1.0" fill="none"/>
<text x="839.73" y="388.2" font-size="14.2" fill="#111" textLength="25.19" lengthAdjust="spacingAndGlyphs">LXD</text>
<circle cx="871.7" cy="368.3" r="3" fill="#F0B35E"/>
<rect x="794" y="425.5" width="83" height="41" fill="#D9D9D9"/>
<rect x="803" y="422.5" width="29.3" height="46.7" fill="#E95420"/>
<polygon points="817.65,442.00 822.70,444.65 822.70,449.95 817.65,452.60 812.60,449.95 812.60,444.65" fill="none" stroke="#fff" stroke-width="1.1" stroke-linejoin="round"/>
<polygon points="817.65,444.23 820.58,445.76 820.58,448.84 817.65,450.37 814.72,448.84 814.72,445.76" fill="#fff" stroke="none" opacity="0.95"/>
<path d="M814.72,445.76 L817.65,447.30 L820.58,445.76 M817.65,447.30 L817.65,450.37" stroke="#E95420" stroke-width="1.0" fill="none"/>
<polygon points="812.55,452.00 817.60,454.65 817.60,459.95 812.55,462.60 807.50,459.95 807.50,454.65" fill="none" stroke="#fff" stroke-width="1.1" stroke-linejoin="round"/>
<polygon points="812.55,454.23 815.48,455.76 815.48,458.84 812.55,460.37 809.62,458.84 809.62,455.76" fill="#fff" stroke="none" opacity="0.95"/>
<path d="M809.62,455.76 L812.55,457.30 L815.48,455.76 M812.55,457.30 L812.55,460.37" stroke="#E95420" stroke-width="1.0" fill="none"/>
<polygon points="822.75,452.00 827.80,454.65 827.80,459.95 822.75,462.60 817.70,459.95 817.70,454.65" fill="none" stroke="#fff" stroke-width="1.1" stroke-linejoin="round"/>
<polygon points="822.75,454.23 825.68,455.76 825.68,458.84 822.75,460.37 819.82,458.84 819.82,455.76" fill="#fff" stroke="none" opacity="0.95"/>
<path d="M819.82,455.76 L822.75,457.30 L825.68,455.76 M822.75,457.30 L822.75,460.37" stroke="#E95420" stroke-width="1.0" fill="none"/>
<text x="839.73" y="451.2" font-size="14.2" fill="#111" textLength="25.19" lengthAdjust="spacingAndGlyphs">LXD</text>
<circle cx="871.7" cy="431.3" r="3" fill="#F0B35E"/>
<rect x="794" y="489.5" width="83" height="41" fill="#D9D9D9"/>
<rect x="803" y="486.5" width="29.3" height="46.7" fill="#E95420"/>
<polygon points="817.65,506.00 822.70,508.65 822.70,513.95 817.65,516.60 812.60,513.95 812.60,508.65" fill="none" stroke="#fff" stroke-width="1.1" stroke-linejoin="round"/>
<polygon points="817.65,508.23 820.58,509.76 820.58,512.84 817.65,514.37 814.72,512.84 814.72,509.76" fill="#fff" stroke="none" opacity="0.95"/>
<path d="M814.72,509.76 L817.65,511.30 L820.58,509.76 M817.65,511.30 L817.65,514.37" stroke="#E95420" stroke-width="1.0" fill="none"/>
<polygon points="812.55,516.00 817.60,518.65 817.60,523.95 812.55,526.60 807.50,523.95 807.50,518.65" fill="none" stroke="#fff" stroke-width="1.1" stroke-linejoin="round"/>
<polygon points="812.55,518.23 815.48,519.76 815.48,522.84 812.55,524.37 809.62,522.84 809.62,519.76" fill="#fff" stroke="none" opacity="0.95"/>
<path d="M809.62,519.76 L812.55,521.30 L815.48,519.76 M812.55,521.30 L812.55,524.37" stroke="#E95420" stroke-width="1.0" fill="none"/>
<polygon points="822.75,516.00 827.80,518.65 827.80,523.95 822.75,526.60 817.70,523.95 817.70,518.65" fill="none" stroke="#fff" stroke-width="1.1" stroke-linejoin="round"/>
<polygon points="822.75,518.23 825.68,519.76 825.68,522.84 822.75,524.37 819.82,522.84 819.82,519.76" fill="#fff" stroke="none" opacity="0.95"/>
<path d="M819.82,519.76 L822.75,521.30 L825.68,519.76 M822.75,521.30 L822.75,524.37" stroke="#E95420" stroke-width="1.0" fill="none"/>
<text x="839.73" y="515.2" font-size="14.2" fill="#111" textLength="25.19" lengthAdjust="spacingAndGlyphs">LXD</text>
<circle cx="871.7" cy="495.3" r="3" fill="#F0B35E"/>
<rect x="794" y="552.5" width="83" height="41" fill="#D9D9D9"/>
<rect x="803" y="549.5" width="29.3" height="46.7" fill="#E95420"/>
<polygon points="817.65,569.00 822.70,571.65 822.70,576.95 817.65,579.60 812.60,576.95 812.60,571.65" fill="none" stroke="#fff" stroke-width="1.1" stroke-linejoin="round"/>
<polygon points="817.65,571.23 820.58,572.76 820.58,575.84 817.65,577.37 814.72,575.84 814.72,572.76" fill="#fff" stroke="none" opacity="0.95"/>
<path d="M814.72,572.76 L817.65,574.30 L820.58,572.76 M817.65,574.30 L817.65,577.37" stroke="#E95420" stroke-width="1.0" fill="none"/>
<polygon points="812.55,579.00 817.60,581.65 817.60,586.95 812.55,589.60 807.50,586.95 807.50,581.65" fill="none" stroke="#fff" stroke-width="1.1" stroke-linejoin="round"/>
<polygon points="812.55,581.23 815.48,582.76 815.48,585.84 812.55,587.37 809.62,585.84 809.62,582.76" fill="#fff" stroke="none" opacity="0.95"/>
<path d="M809.62,582.76 L812.55,584.30 L815.48,582.76 M812.55,584.30 L812.55,587.37" stroke="#E95420" stroke-width="1.0" fill="none"/>
<polygon points="822.75,579.00 827.80,581.65 827.80,586.95 822.75,589.60 817.70,586.95 817.70,581.65" fill="none" stroke="#fff" stroke-width="1.1" stroke-linejoin="round"/>
<polygon points="822.75,581.23 825.68,582.76 825.68,585.84 822.75,587.37 819.82,585.84 819.82,582.76" fill="#fff" stroke="none" opacity="0.95"/>
<path d="M819.82,582.76 L822.75,584.30 L825.68,582.76 M822.75,584.30 L822.75,587.37" stroke="#E95420" stroke-width="1.0" fill="none"/>
<text x="839.73" y="578.2" font-size="14.2" fill="#111" textLength="25.19" lengthAdjust="spacingAndGlyphs">LXD</text>
<circle cx="871.7" cy="558.3" r="3" fill="#F0B35E"/>
<rect x="794" y="615.9" width="83" height="41" fill="#D9D9D9"/>
<rect x="803" y="612.9" width="29.3" height="46.7" fill="#E95420"/>
<polygon points="817.65,632.40 822.70,635.05 822.70,640.35 817.65,643.00 812.60,640.35 812.60,635.05" fill="none" stroke="#fff" stroke-width="1.1" stroke-linejoin="round"/>
<polygon points="817.65,634.63 820.58,636.16 820.58,639.24 817.65,640.77 814.72,639.24 814.72,636.16" fill="#fff" stroke="none" opacity="0.95"/>
<path d="M814.72,636.16 L817.65,637.70 L820.58,636.16 M817.65,637.70 L817.65,640.77" stroke="#E95420" stroke-width="1.0" fill="none"/>
<polygon points="812.55,642.40 817.60,645.05 817.60,650.35 812.55,653.00 807.50,650.35 807.50,645.05" fill="none" stroke="#fff" stroke-width="1.1" stroke-linejoin="round"/>
<polygon points="812.55,644.63 815.48,646.16 815.48,649.24 812.55,650.77 809.62,649.24 809.62,646.16" fill="#fff" stroke="none" opacity="0.95"/>
<path d="M809.62,646.16 L812.55,647.70 L815.48,646.16 M812.55,647.70 L812.55,650.77" stroke="#E95420" stroke-width="1.0" fill="none"/>
<polygon points="822.75,642.40 827.80,645.05 827.80,650.35 822.75,653.00 817.70,650.35 817.70,645.05" fill="none" stroke="#fff" stroke-width="1.1" stroke-linejoin="round"/>
<polygon points="822.75,644.63 825.68,646.16 825.68,649.24 822.75,650.77 819.82,649.24 819.82,646.16" fill="#fff" stroke="none" opacity="0.95"/>
<path d="M819.82,646.16 L822.75,647.70 L825.68,646.16 M822.75,647.70 L822.75,650.77" stroke="#E95420" stroke-width="1.0" fill="none"/>
<text x="839.73" y="641.6" font-size="14.2" fill="#111" textLength="25.19" lengthAdjust="spacingAndGlyphs">LXD</text>
<circle cx="871.7" cy="621.6999999999999" r="3" fill="#F0B35E"/>
<rect x="977" y="298.9" width="83" height="41" fill="#D9D9D9"/>
<rect x="986" y="295.9" width="29.3" height="46.7" fill="#E95420"/>
<polygon points="1000.65,315.40 1005.70,318.05 1005.70,323.35 1000.65,326.00 995.60,323.35 995.60,318.05" fill="none" stroke="#fff" stroke-width="1.1" stroke-linejoin="round"/>
<polygon points="1000.65,317.63 1003.58,319.16 1003.58,322.24 1000.65,323.77 997.72,322.24 997.72,319.16" fill="#fff" stroke="none" opacity="0.95"/>
<path d="M997.72,319.16 L1000.65,320.70 L1003.58,319.16 M1000.65,320.70 L1000.65,323.77" stroke="#E95420" stroke-width="1.0" fill="none"/>
<polygon points="995.55,325.40 1000.60,328.05 1000.60,333.35 995.55,336.00 990.50,333.35 990.50,328.05" fill="none" stroke="#fff" stroke-width="1.1" stroke-linejoin="round"/>
<polygon points="995.55,327.63 998.48,329.16 998.48,332.24 995.55,333.77 992.62,332.24 992.62,329.16" fill="#fff" stroke="none" opacity="0.95"/>
<path d="M992.62,329.16 L995.55,330.70 L998.48,329.16 M995.55,330.70 L995.55,333.77" stroke="#E95420" stroke-width="1.0" fill="none"/>
<polygon points="1005.75,325.40 1010.80,328.05 1010.80,333.35 1005.75,336.00 1000.70,333.35 1000.70,328.05" fill="none" stroke="#fff" stroke-width="1.1" stroke-linejoin="round"/>
<polygon points="1005.75,327.63 1008.68,329.16 1008.68,332.24 1005.75,333.77 1002.82,332.24 1002.82,329.16" fill="#fff" stroke="none" opacity="0.95"/>
<path d="M1002.82,329.16 L1005.75,330.70 L1008.68,329.16 M1005.75,330.70 L1005.75,333.77" stroke="#E95420" stroke-width="1.0" fill="none"/>
<text x="1022.73" y="324.59999999999997" font-size="14.2" fill="#111" textLength="25.19" lengthAdjust="spacingAndGlyphs">LXD</text>
<circle cx="1055" cy="303.9" r="3" fill="#12EE12"/>
<rect x="977" y="361.8" width="83" height="41" fill="#D9D9D9"/>
<rect x="986" y="358.8" width="29.3" height="46.7" fill="#E95420"/>
<polygon points="1000.65,378.30 1005.70,380.95 1005.70,386.25 1000.65,388.90 995.60,386.25 995.60,380.95" fill="none" stroke="#fff" stroke-width="1.1" stroke-linejoin="round"/>
<polygon points="1000.65,380.53 1003.58,382.06 1003.58,385.14 1000.65,386.67 997.72,385.14 997.72,382.06" fill="#fff" stroke="none" opacity="0.95"/>
<path d="M997.72,382.06 L1000.65,383.60 L1003.58,382.06 M1000.65,383.60 L1000.65,386.67" stroke="#E95420" stroke-width="1.0" fill="none"/>
<polygon points="995.55,388.30 1000.60,390.95 1000.60,396.25 995.55,398.90 990.50,396.25 990.50,390.95" fill="none" stroke="#fff" stroke-width="1.1" stroke-linejoin="round"/>
<polygon points="995.55,390.53 998.48,392.06 998.48,395.14 995.55,396.67 992.62,395.14 992.62,392.06" fill="#fff" stroke="none" opacity="0.95"/>
<path d="M992.62,392.06 L995.55,393.60 L998.48,392.06 M995.55,393.60 L995.55,396.67" stroke="#E95420" stroke-width="1.0" fill="none"/>
<polygon points="1005.75,388.30 1010.80,390.95 1010.80,396.25 1005.75,398.90 1000.70,396.25 1000.70,390.95" fill="none" stroke="#fff" stroke-width="1.1" stroke-linejoin="round"/>
<polygon points="1005.75,390.53 1008.68,392.06 1008.68,395.14 1005.75,396.67 1002.82,395.14 1002.82,392.06" fill="#fff" stroke="none" opacity="0.95"/>
<path d="M1002.82,392.06 L1005.75,393.60 L1008.68,392.06 M1005.75,393.60 L1005.75,396.67" stroke="#E95420" stroke-width="1.0" fill="none"/>
<text x="1022.73" y="387.5" font-size="14.2" fill="#111" textLength="25.19" lengthAdjust="spacingAndGlyphs">LXD</text>
<circle cx="1055" cy="366.8" r="3" fill="#12EE12"/>
<rect x="977" y="424.8" width="83" height="41" fill="#D9D9D9"/>
<rect x="986" y="421.8" width="29.3" height="46.7" fill="#E95420"/>
<polygon points="1000.65,441.30 1005.70,443.95 1005.70,449.25 1000.65,451.90 995.60,449.25 995.60,443.95" fill="none" stroke="#fff" stroke-width="1.1" stroke-linejoin="round"/>
<polygon points="1000.65,443.53 1003.58,445.06 1003.58,448.14 1000.65,449.67 997.72,448.14 997.72,445.06" fill="#fff" stroke="none" opacity="0.95"/>
<path d="M997.72,445.06 L1000.65,446.60 L1003.58,445.06 M1000.65,446.60 L1000.65,449.67" stroke="#E95420" stroke-width="1.0" fill="none"/>
<polygon points="995.55,451.30 1000.60,453.95 1000.60,459.25 995.55,461.90 990.50,459.25 990.50,453.95" fill="none" stroke="#fff" stroke-width="1.1" stroke-linejoin="round"/>
<polygon points="995.55,453.53 998.48,455.06 998.48,458.14 995.55,459.67 992.62,458.14 992.62,455.06" fill="#fff" stroke="none" opacity="0.95"/>
<path d="M992.62,455.06 L995.55,456.60 L998.48,455.06 M995.55,456.60 L995.55,459.67" stroke="#E95420" stroke-width="1.0" fill="none"/>
<polygon points="1005.75,451.30 1010.80,453.95 1010.80,459.25 1005.75,461.90 1000.70,459.25 1000.70,453.95" fill="none" stroke="#fff" stroke-width="1.1" stroke-linejoin="round"/>
<polygon points="1005.75,453.53 1008.68,455.06 1008.68,458.14 1005.75,459.67 1002.82,458.14 1002.82,455.06" fill="#fff" stroke="none" opacity="0.95"/>
<path d="M1002.82,455.06 L1005.75,456.60 L1008.68,455.06 M1005.75,456.60 L1005.75,459.67" stroke="#E95420" stroke-width="1.0" fill="none"/>
<text x="1022.73" y="450.5" font-size="14.2" fill="#111" textLength="25.19" lengthAdjust="spacingAndGlyphs">LXD</text>
<circle cx="1055" cy="429.8" r="3" fill="#12EE12"/>
<rect x="977" y="488.8" width="83" height="41" fill="#D9D9D9"/>
<rect x="986" y="485.8" width="29.3" height="46.7" fill="#E95420"/>
<polygon points="1000.65,505.30 1005.70,507.95 1005.70,513.25 1000.65,515.90 995.60,513.25 995.60,507.95" fill="none" stroke="#fff" stroke-width="1.1" stroke-linejoin="round"/>
<polygon points="1000.65,507.53 1003.58,509.06 1003.58,512.14 1000.65,513.67 997.72,512.14 997.72,509.06" fill="#fff" stroke="none" opacity="0.95"/>
<path d="M997.72,509.06 L1000.65,510.60 L1003.58,509.06 M1000.65,510.60 L1000.65,513.67" stroke="#E95420" stroke-width="1.0" fill="none"/>
<polygon points="995.55,515.30 1000.60,517.95 1000.60,523.25 995.55,525.90 990.50,523.25 990.50,517.95" fill="none" stroke="#fff" stroke-width="1.1" stroke-linejoin="round"/>
<polygon points="995.55,517.53 998.48,519.06 998.48,522.14 995.55,523.67 992.62,522.14 992.62,519.06" fill="#fff" stroke="none" opacity="0.95"/>
<path d="M992.62,519.06 L995.55,520.60 L998.48,519.06 M995.55,520.60 L995.55,523.67" stroke="#E95420" stroke-width="1.0" fill="none"/>
<polygon points="1005.75,515.30 1010.80,517.95 1010.80,523.25 1005.75,525.90 1000.70,523.25 1000.70,517.95" fill="none" stroke="#fff" stroke-width="1.1" stroke-linejoin="round"/>
<polygon points="1005.75,517.53 1008.68,519.06 1008.68,522.14 1005.75,523.67 1002.82,522.14 1002.82,519.06" fill="#fff" stroke="none" opacity="0.95"/>
<path d="M1002.82,519.06 L1005.75,520.60 L1008.68,519.06 M1005.75,520.60 L1005.75,523.67" stroke="#E95420" stroke-width="1.0" fill="none"/>
<text x="1022.73" y="514.5" font-size="14.2" fill="#111" textLength="25.19" lengthAdjust="spacingAndGlyphs">LXD</text>
<circle cx="1055" cy="493.8" r="3" fill="#12EE12"/>
<rect x="977" y="551.8" width="83" height="41" fill="#D9D9D9"/>
<rect x="986" y="548.8" width="29.3" height="46.7" fill="#E95420"/>
<polygon points="1000.65,568.30 1005.70,570.95 1005.70,576.25 1000.65,578.90 995.60,576.25 995.60,570.95" fill="none" stroke="#fff" stroke-width="1.1" stroke-linejoin="round"/>
<polygon points="1000.65,570.53 1003.58,572.06 1003.58,575.14 1000.65,576.67 997.72,575.14 997.72,572.06" fill="#fff" stroke="none" opacity="0.95"/>
<path d="M997.72,572.06 L1000.65,573.60 L1003.58,572.06 M1000.65,573.60 L1000.65,576.67" stroke="#E95420" stroke-width="1.0" fill="none"/>
<polygon points="995.55,578.30 1000.60,580.95 1000.60,586.25 995.55,588.90 990.50,586.25 990.50,580.95" fill="none" stroke="#fff" stroke-width="1.1" stroke-linejoin="round"/>
<polygon points="995.55,580.53 998.48,582.06 998.48,585.14 995.55,586.67 992.62,585.14 992.62,582.06" fill="#fff" stroke="none" opacity="0.95"/>
<path d="M992.62,582.06 L995.55,583.60 L998.48,582.06 M995.55,583.60 L995.55,586.67" stroke="#E95420" stroke-width="1.0" fill="none"/>
<polygon points="1005.75,578.30 1010.80,580.95 1010.80,586.25 1005.75,588.90 1000.70,586.25 1000.70,580.95" fill="none" stroke="#fff" stroke-width="1.1" stroke-linejoin="round"/>
<polygon points="1005.75,580.53 1008.68,582.06 1008.68,585.14 1005.75,586.67 1002.82,585.14 1002.82,582.06" fill="#fff" stroke="none" opacity="0.95"/>
<path d="M1002.82,582.06 L1005.75,583.60 L1008.68,582.06 M1005.75,583.60 L1005.75,586.67" stroke="#E95420" stroke-width="1.0" fill="none"/>
<text x="1022.73" y="577.5" font-size="14.2" fill="#111" textLength="25.19" lengthAdjust="spacingAndGlyphs">LXD</text>
<circle cx="1055" cy="556.8" r="3" fill="#12EE12"/>
<rect x="977" y="614.8" width="83" height="41" fill="#D9D9D9"/>
<rect x="986" y="611.8" width="29.3" height="46.7" fill="#E95420"/>
<polygon points="1000.65,631.30 1005.70,633.95 1005.70,639.25 1000.65,641.90 995.60,639.25 995.60,633.95" fill="none" stroke="#fff" stroke-width="1.1" stroke-linejoin="round"/>
<polygon points="1000.65,633.53 1003.58,635.06 1003.58,638.14 1000.65,639.67 997.72,638.14 997.72,635.06" fill="#fff" stroke="none" opacity="0.95"/>
<path d="M997.72,635.06 L1000.65,636.60 L1003.58,635.06 M1000.65,636.60 L1000.65,639.67" stroke="#E95420" stroke-width="1.0" fill="none"/>
<polygon points="995.55,641.30 1000.60,643.95 1000.60,649.25 995.55,651.90 990.50,649.25 990.50,643.95" fill="none" stroke="#fff" stroke-width="1.1" stroke-linejoin="round"/>
<polygon points="995.55,643.53 998.48,645.06 998.48,648.14 995.55,649.67 992.62,648.14 992.62,645.06" fill="#fff" stroke="none" opacity="0.95"/>
<path d="M992.62,645.06 L995.55,646.60 L998.48,645.06 M995.55,646.60 L995.55,649.67" stroke="#E95420" stroke-width="1.0" fill="none"/>
<polygon points="1005.75,641.30 1010.80,643.95 1010.80,649.25 1005.75,651.90 1000.70,649.25 1000.70,643.95" fill="none" stroke="#fff" stroke-width="1.1" stroke-linejoin="round"/>
<polygon points="1005.75,643.53 1008.68,645.06 1008.68,648.14 1005.75,649.67 1002.82,648.14 1002.82,645.06" fill="#fff" stroke="none" opacity="0.95"/>
<path d="M1002.82,645.06 L1005.75,646.60 L1008.68,645.06 M1005.75,646.60 L1005.75,649.67" stroke="#E95420" stroke-width="1.0" fill="none"/>
<text x="1022.73" y="640.5" font-size="14.2" fill="#111" textLength="25.19" lengthAdjust="spacingAndGlyphs">LXD</text>
<circle cx="1055" cy="619.8" r="3" fill="#12EE12"/>
<rect x="367" y="183" width="24" height="24" fill="#E95420"/>
<circle cx="378.8" cy="194.8" r="6.9" fill="none" stroke="#fff" stroke-width="1.6"/>
<circle cx="372.4" cy="194.6" r="3.2" fill="#E95420"/>
<circle cx="372.4" cy="194.6" r="2.4" fill="#fff"/>
<circle cx="382.9" cy="188.8" r="3.2" fill="#E95420"/>
<circle cx="382.9" cy="188.8" r="2.4" fill="#fff"/>
<circle cx="382.3" cy="200.7" r="3.2" fill="#E95420"/>
<circle cx="382.3" cy="200.7" r="2.4" fill="#fff"/>
<text x="326.19" y="220.3" font-size="10.3" fill="#111" textLength="111.16" lengthAdjust="spacingAndGlyphs">Canonical MAAS -aware</text>
<text x="336.04" y="232.6" font-size="10.3" fill="#111" textLength="90.74" lengthAdjust="spacingAndGlyphs">bare metal and LXD</text>
<text x="358.17" y="243.5" font-size="10.3" fill="#111" textLength="46.41" lengthAdjust="spacingAndGlyphs">machines</text>
<g fill="none" stroke="#B3B3B3" stroke-width="1">
<path d="M306.5,229.4 C268.6,230 122.5,241.7 111.4,296.8"/>
<path d="M306.5,229.4 C279.3,232.1 229.3,246.9 229.3,296.8"/>
<path d="M458.6,229.3 C490,227 512,222 514,213 C517,200 535,195.3 551,195.3 C575,195.3 594.6,210 594.6,225.8"/>
<path d="M342.1,259.2 C351.8,259.2 384.1,259.0 400.0,259.2 C415.9,259.4 425.2,259.9 437.8,260.3 C450.4,260.7 465.5,261.4 475.6,261.8 C485.7,262.2 490.8,262.3 498.2,262.9 C505.6,263.5 514.2,264.6 520.0,265.2 C525.8,265.8 526.8,265.7 532.7,266.3 C538.6,266.9 548.6,268.2 555.3,269.0 C562.0,269.8 568.3,270.6 572.7,271.2 C577.1,271.8 579.1,272.1 581.8,272.8 C584.4,273.5 587.0,274.3 588.6,275.4 C590.2,276.5 590.2,278.2 591.6,279.2 C593.0,280.2 594.1,280.6 596.9,281.4 C599.7,282.2 602.7,283.0 608.2,284.1 C613.7,285.2 623.8,287.0 630.0,287.9 C636.2,288.8 634.6,288.8 645.6,289.6 C656.6,290.4 681.5,292.0 696.0,292.8 C710.5,293.6 722.5,294.0 732.5,294.4 C742.5,294.8 744.5,294.7 756.3,295.0 C768.0,295.3 795.2,295.8 803.0,296.0"/>
<path d="M372.0,259.6 C376.7,260.0 391.6,261.0 400.0,261.8 C408.4,262.6 415.1,263.3 422.7,264.4 C430.2,265.5 439.0,267.0 445.3,268.2 C451.6,269.4 457.0,270.5 460.5,271.6 C464.0,272.7 465.0,273.5 466.5,274.6 C468.0,275.7 468.2,277.1 469.5,278.4 C470.8,279.7 471.8,281.0 474.1,282.2 C476.4,283.4 479.1,284.5 483.1,285.6 C487.1,286.7 492.1,287.5 498.2,288.6 C504.3,289.7 514.2,291.2 520.0,292.1 C525.8,293.0 527.4,293.3 532.7,293.9 C538.0,294.4 544.9,295.0 551.6,295.4 C558.3,295.8 565.7,296.2 573.1,296.4 C580.5,296.6 592.0,296.4 595.8,296.4"/>
</g>
<path d="M1371.4,208.6 L1387.2,208.6 L1387.2,414 M1387.2,452 L1387.2,617.5 L1371.4,617.5" fill="none" stroke="#B8B8B8" stroke-width="1"/>
<text x="1361.12" y="437.9" font-size="12" fill="#1B1B1B" textLength="118.64" lengthAdjust="spacingAndGlyphs">(managed by Palette)</text>
<polygon points="1399.2,457.5 1407.4,452.6 1420,459.5 1411.6,464.3" fill="#8B5A9B"/>
<polygon points="1411.6,464.3 1420,459.5 1420,468.3" fill="#5C1F5E"/>
<polygon points="1399.2,457.5 1406.8,461.3 1399.2,465.8" fill="#0E4A45"/>
<polygon points="1399.2,470.8 1411.2,464.5 1419.8,468.5 1407.4,476.3 1399.2,480" fill="#1F8A80"/>
<polygon points="1399.2,480 1407.4,476.3 1407.4,485 1399.2,480.8" fill="#0C4A45"/>
<circle cx="1142.9" cy="681.9" r="3.2" fill="#7E1B0F"/>
<text x="1157.98" y="688.1" font-size="10.9" fill="#111" textLength="21.0" lengthAdjust="spacingAndGlyphs">AZ-1</text>
<circle cx="1142.9" cy="699.9" r="3.2" fill="#F0B35E"/>
<text x="1157.97" y="706.1" font-size="10.9" fill="#111" textLength="22.57" lengthAdjust="spacingAndGlyphs">AZ-2</text>
<circle cx="1142.9" cy="717.1" r="3.2" fill="#12EE12"/>
<text x="1157.97" y="723.7" font-size="10.9" fill="#111" textLength="22.49" lengthAdjust="spacingAndGlyphs">AZ-3</text>
<g fill="#1F7F7B" stroke="#1F7F7B" stroke-width="2.4" stroke-linejoin="round">
<path d="M82.2,755.4 L104.6,773.8 L82.2,792.3 L58.4,773.8 Z"/>
<path d="M82.2,775.2 L104.6,793.5 L82.2,812.4 L58.4,793.5 Z"/>
</g>
<path d="M57.2,773.8 L76.5,773.8 L105.6,793.5 L82.8,793.5 Z" fill="#0F6663" stroke="#0F6663" stroke-width="1" stroke-linejoin="round"/>
<path d="M94.2,784.1 L105.6,793.5 L82.8,793.5 Z" fill="#0B4645"/>
<text x="121.15" y="779" font-size="21" fill="#05211F" textLength="93.62" lengthAdjust="spacingAndGlyphs" font-weight="bold">Spectro</text>
<text x="119.3" y="803.6" font-size="22" fill="#05211F" textLength="67.83" lengthAdjust="spacingAndGlyphs">Cloud</text>
<text x="273.3" y="794.8" font-size="14.5" fill="#1B2B2B" textLength="9.79" lengthAdjust="spacingAndGlyphs">©</text>
<text x="286.68" y="794.8" font-size="14.5" fill="#1B2B2B" textLength="32.03" lengthAdjust="spacingAndGlyphs">2025</text>
<text x="322.13" y="794.8" font-size="14.5" fill="#1B2B2B" textLength="51.29" lengthAdjust="spacingAndGlyphs">Spectro</text>
<text x="376.85" y="794.8" font-size="14.5" fill="#1B2B2B" textLength="39.19" lengthAdjust="spacingAndGlyphs">Cloud</text>
<text x="421.37" y="794.8" font-size="14.5" fill="#1B2B2B" textLength="6.27" lengthAdjust="spacingAndGlyphs">.</text>
<text x="429.77" y="794.8" font-size="14.5" fill="#1B2B2B" textLength="13.97" lengthAdjust="spacingAndGlyphs">All</text>
<text x="447.3" y="794.8" font-size="14.5" fill="#1B2B2B" textLength="37.65" lengthAdjust="spacingAndGlyphs">rights</text>
<text x="490.36" y="794.8" font-size="14.5" fill="#1B2B2B" textLength="60.26" lengthAdjust="spacingAndGlyphs">reserved.</text>
<circle cx="419.5" cy="789.2" r="2.3" fill="#1B2B2B"/>
<rect x="0" y="853.5" width="1588" height="1.5" fill="#DCDCDC"/>
<rect x="1587" y="0" width="1" height="855" fill="#DCDCDC"/>
</svg></body></html>
